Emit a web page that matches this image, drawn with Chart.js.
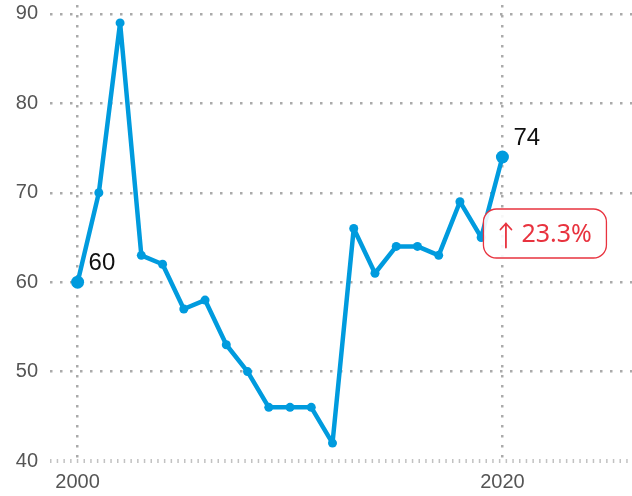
<!DOCTYPE html>
<html>
<head>
<meta charset="utf-8">
<script src="https://cdn.jsdelivr.net/npm/chart.js@4/dist/chart.umd.min.js"></script>
<style>
  html, body { margin: 0; padding: 0; background: #fff; }
  #wrap { width: 632px; height: 496px; }
</style>
</head>
<body>
<div id="wrap"><canvas id="chart" width="632" height="496"></canvas></div>
<script>
const years = [2000, 2001, 2002, 2003, 2004, 2005, 2006, 2007, 2008, 2009, 2010,
  2011, 2012, 2013, 2014, 2015, 2016, 2017, 2018, 2019, 2020]
const values = [60, 70, 89, 63, 62, 57, 58, 53, 50, 46, 46,
  46, 42, 66, 61, 64, 64, 63, 69, 65, 74]
const yTicks = [40, 50, 60, 70, 80, 90]
const xTicks = [2000, 2020]

const lineColor = '#009bde'
const badgeColor = '#e8333f'
const gridColor = '#aaa'

const first = values[0]
const last = values[values.length - 1]
const change = ((last - first) / first * 100).toFixed(1)

// linea base punteada (eje x)
const baselinePlugin = {
  id: 'baseline',
  beforeDatasetsDraw(chart) {
    const { ctx, chartArea } = chart
    const y = chart.scales.y.getPixelForValue(yTicks[0])
    ctx.save()
    ctx.strokeStyle = '#c2c2c2'
    ctx.lineWidth = 4
    ctx.setLineDash([1.5, 5.2])
    ctx.beginPath()
    ctx.moveTo(chartArea.left, y)
    ctx.lineTo(chartArea.right, y)
    ctx.stroke()
    ctx.restore()
  }
}

// etiquetas del primer y ultimo punto + caja de variacion
const labelsPlugin = {
  id: 'endLabels',
  afterDatasetsDraw(chart) {
    const { ctx } = chart
    const pts = chart.getDatasetMeta(0).data
    const p0 = pts[0]
    const pN = pts[pts.length - 1]
    ctx.save()
    ctx.font = '24px "Liberation Sans", Arial, sans-serif'
    ctx.fillStyle = '#111'
    ctx.textAlign = 'left'
    ctx.textBaseline = 'middle'
    ctx.fillText(String(first), p0.x + 11, p0.y - 19)
    ctx.fillText(String(last), pN.x + 11, pN.y - 19)

    const bx = pN.x - 19, by = pN.y + 52, bw = 123, bh = 49, r = 13
    ctx.beginPath()
    ctx.roundRect(bx, by, bw, bh, r)
    ctx.fillStyle = 'rgba(255,255,255,0.9)'
    ctx.fill()
    ctx.lineWidth = 1.3
    ctx.strokeStyle = badgeColor
    ctx.stroke()

    // flecha + porcentaje
    const txt = change + '%'
    const ty = by + bh / 2 + 1
    const tx = bx + 38
    const ax = bx + 22.5
    ctx.strokeStyle = badgeColor
    ctx.lineWidth = 1.8
    ctx.lineCap = 'round'
    ctx.lineJoin = 'round'
    ctx.beginPath()
    ctx.moveTo(ax, ty - 11)
    ctx.lineTo(ax, ty + 13)
    ctx.moveTo(ax - 5.5, ty - 5)
    ctx.lineTo(ax, ty - 11)
    ctx.lineTo(ax + 5.5, ty - 5)
    ctx.stroke()
    ctx.font = '25px "Noto Sans", "Open Sans", sans-serif'
    ctx.fillStyle = badgeColor
    ctx.fillText(txt, tx, ty)
    ctx.restore()
  }
}

const ctx = document.getElementById('chart').getContext('2d')
new Chart(ctx, {
  type: 'line',
  data: {
    datasets: [{
      data: years.map((y, i) => ({ x: y, y: values[i] })),
      borderColor: lineColor,
      backgroundColor: lineColor,
      borderWidth: 4.5,
      borderJoinStyle: 'round',
      pointRadius: values.map((v, i) => (i === 0 || i === values.length - 1) ? 6.5 : 4.5),
      pointBorderWidth: 0,
      pointBackgroundColor: lineColor,
      tension: 0,
    }],
  },
  plugins: [baselinePlugin, labelsPlugin],
  options: {
    responsive: false,
    animation: false,
    layout: { autoPadding: false, padding: { top: 5, right: 0, left: 0, bottom: 0 } },
    plugins: { legend: { display: false }, tooltip: { enabled: false } },
    scales: {
      x: {
        type: 'linear',
        min: 1998.7,
        max: 2026.1,
        afterBuildTicks: (scale) => { scale.ticks = xTicks.map((v) => ({ value: v })) },
        afterFit: (scale) => {
          scale.height = 35
          scale.paddingLeft = 0
          scale.paddingRight = 0
        },
        ticks: {
          padding: 9,
          color: '#555',
          font: { family: '"Liberation Sans", Arial, sans-serif', size: 20 },
          callback: (v) => String(v),
        },
        grid: { drawTicks: false, color: gridColor, lineWidth: 2.5 },
        border: { display: false, dash: [2.5, 7.5] },
      },
      y: {
        min: 40,
        max: 91,
        afterBuildTicks: (scale) => { scale.ticks = yTicks.map((v) => ({ value: v })) },
        afterFit: (scale) => {
          scale.width = 50
          scale.paddingTop = 0
          scale.paddingBottom = 0
        },
        ticks: {
          padding: 12,
          color: '#555',
          font: { family: '"Liberation Sans", Arial, sans-serif', size: 20 },
        },
        grid: {
          drawTicks: false,
          color: (c) => c.tick && c.tick.value === yTicks[0] ? 'rgba(0,0,0,0)' : gridColor,
          lineWidth: 2.5,
        },
        border: { display: false, dash: [2.5, 7.5] },
      },
    },
  },
})
</script>
</body>
</html>
